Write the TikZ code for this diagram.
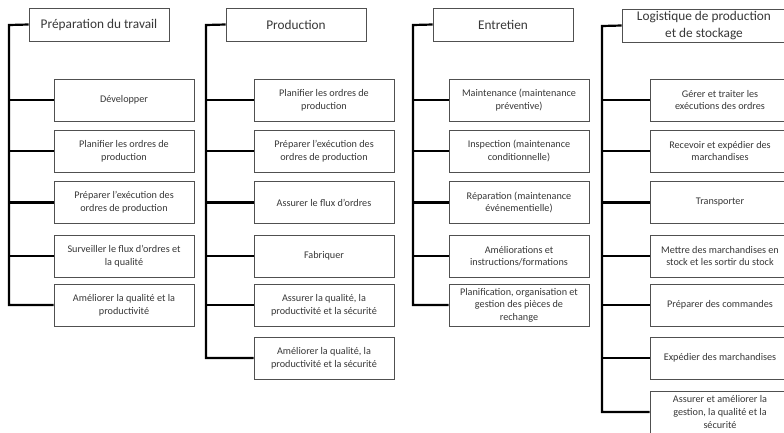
\documentclass[tikz,border=0pt]{standalone}
\usepackage{fontspec}
\setmainfont{Carlito}
\usetikzlibrary{shadows}
\definecolor{txtgray}{HTML}{383838}
\definecolor{boxgray}{HTML}{505050}
\begin{document}
\begin{tikzpicture}[x=1pt,y=-1pt,
  box/.style={draw=boxgray,line width=0.9pt,fill=white,text=txtgray,align=center,
    minimum width=140pt,minimum height=42pt,inner sep=1pt,font=\fontsize{10.2}{12.6}\selectfont,
    drop shadow={shadow xshift=0.7pt,shadow yshift=-0.7pt,fill=black!45,opacity=1}},
  head/.style={box,minimum height=33pt,font=\fontsize{13.3}{17}\selectfont},
  conn/.style={line width=2.2pt,black}]
\useasboundingbox (0,0) rectangle (784,432);
\clip (0,0) rectangle (784,432);
% column headers
  \node[head] (prep) at (99,24.5) {Préparation du travail};
  \node[head] (prod) at (296,24.5) {Production};
  \node[head] (entr) at (503,24.5) {Entretien};
  \node[head,minimum width=164pt] (logi) at (704,25.5) {Logistique de production\\et de stockage};
  \coordinate (lp) at (9,25);
  \coordinate (lf) at (206,25);
  \coordinate (le) at (413,25);
  \coordinate (ll) at (602,26);
% preparation du travail
  \node[box] (p1) at (124,100) {Développer};
  \node[box] (p2) at (124,151) {Planifier les ordres de\\production};
  \node[box] (p3) at (124,202.5) {Préparer l'exécution des\\ordres de production};
  \node[box] (p4) at (124,256) {Surveiller le flux d'ordres et\\la qualité};
  \node[box] (p5) at (124,305) {Améliorer la qualité et la\\productivité};
% production
  \node[box] (f1) at (324,100) {Planifier les ordres de\\production};
  \node[box] (f2) at (324,151) {Préparer l'exécution des\\ordres de production};
  \node[box] (f3) at (324,202.5) {Assurer le flux d'ordres};
  \node[box] (f4) at (324,256) {Fabriquer};
  \node[box] (f5) at (324,305) {Assurer la qualité, la\\productivité et la sécurité};
  \node[box] (f6) at (324,358) {Améliorer la qualité, la\\productivité et la sécurité};
% entretien
  \node[box] (e1) at (519,100) {Maintenance (maintenance\\préventive)};
  \node[box] (e2) at (519,151) {Inspection (maintenance\\conditionnelle)};
  \node[box] (e3) at (519,202.5) {Réparation (maintenance\\événementielle)};
  \node[box] (e4) at (519,256) {Améliorations et\\instructions/formations};
  \node[box] (e5) at (519,305) {Planification, organisation et\\gestion des pièces de\\rechange};
% logistique
  \node[box] (l1) at (720,100) {Gérer et traiter les\\exécutions des ordres};
  \node[box] (l2) at (720,151) {Recevoir et expédier des\\marchandises};
  \node[box] (l3) at (720,202.5) {Transporter};
  \node[box] (l4) at (720,256) {Mettre des marchandises en\\stock et les sortir du stock};
  \node[box] (l5) at (720,305) {Préparer des commandes};
  \node[box] (l6) at (720,358) {Expédier des marchandises};
  \node[box] (l7) at (720,412) {Assurer et améliorer la\\gestion, la qualité et la\\sécurité};
% connectors
  \draw[conn] (prep.west) -- (lp) |- (p5.west);
  \draw[conn] (prod.west) -- (lf) |- (f6.west);
  \draw[conn] (entr.west) -- (le) |- (e5.west);
  \draw[conn] (logi.west) -- (ll) |- (l7.west);
  \foreach \b in {p1,p2,p3,p4}
    \draw[conn] (\b.west) -- (\b.west -| lp);
  \foreach \b in {f1,f2,f3,f4,f5}
    \draw[conn] (\b.west) -- (\b.west -| lf);
  \foreach \b in {e1,e2,e3,e4}
    \draw[conn] (\b.west) -- (\b.west -| le);
  \foreach \b in {l1,l2,l3,l4,l5,l6}
    \draw[conn] (\b.west) -- (\b.west -| ll);
\end{tikzpicture}
\end{document}
